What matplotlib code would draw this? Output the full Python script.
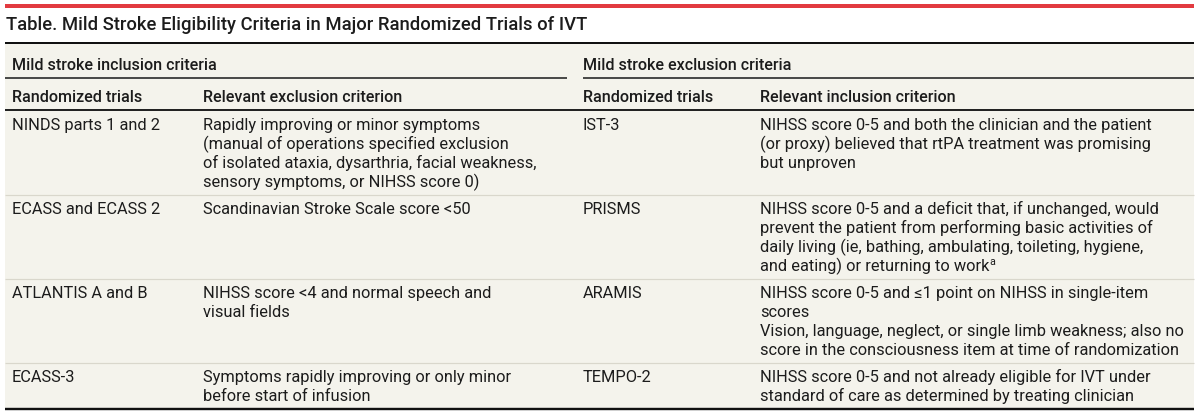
import matplotlib
matplotlib.use("Agg")
import matplotlib.pyplot as plt
from matplotlib.patches import Rectangle

plt.rcParams['font.family'] = ['Roboto', 'DejaVu Sans']

# ---------------- data ----------------
title = "Table. Mild Stroke Eligibility Criteria in Major Randomized Trials of IVT"
group_headers = ["Mild stroke inclusion criteria", "Mild stroke exclusion criteria"]
col_headers = ["Randomized trials", "Relevant exclusion criterion",
               "Randomized trials", "Relevant inclusion criterion"]

left_trials = ["NINDS parts 1 and 2", "ECASS and ECASS 2", "ATLANTIS A and B", "ECASS-3"]
left_criteria = [
    ["Rapidly improving or minor symptoms",
     "(manual of operations specified exclusion",
     "of isolated ataxia, dysarthria, facial weakness,",
     "sensory symptoms, or NIHSS score 0)"],
    ["Scandinavian Stroke Scale score <50"],
    ["NIHSS score <4 and normal speech and",
     "visual fields"],
    ["Symptoms rapidly improving or only minor",
     "before start of infusion"],
]
right_trials = ["IST-3", "PRISMS", "ARAMIS", "TEMPO-2"]
right_criteria = [
    ["NIHSS score 0-5 and both the clinician and the patient",
     "(or proxy) believed that rtPA treatment was promising",
     "but unproven"],
    ["NIHSS score 0-5 and a deficit that, if unchanged, would",
     "prevent the patient from performing basic activities of",
     "daily living (ie, bathing, ambulating, toileting, hygiene,",
     "and eating) or returning to work"],
    ["NIHSS score 0-5 and \u22641 point on NIHSS in single-item",
     "scores",
     "Vision, language, neglect, or single limb weakness; also no",
     "score in the consciousness item at time of randomization"],
    ["NIHSS score 0-5 and not already eligible for IVT under",
     "standard of care as determined by treating clinician"],
]
right_footnotes = ["", "a", "", ""]

# ---------------- style ----------------
W, H = 1199, 411
TXT = "#1c1c1c"
BG = "#f4f3ec"
RED = "#e23a40"
SEP = "#d9d7cc"
X0, X1 = 5, 1194
col_x = [12, 203, 583, 760]
line_h = 19

fig = plt.figure(figsize=(W / 100, H / 100), dpi=100)
fig.patch.set_facecolor("white")
ax = fig.add_axes([0, 0, 1, 1])
ax.set_xlim(0, W)
ax.set_ylim(H, 0)
ax.axis("off")
renderer = fig.canvas.get_renderer()


def fit_size(text, target_px, weight="normal"):
    t = ax.text(0, 0, text, fontsize=10, weight=weight)
    w = t.get_window_extent(renderer).width
    t.remove()
    return 10 * target_px / w


body_fs = fit_size(right_criteria[0][0], 390)
head_fs = fit_size(group_headers[0], 205, "medium")
title_fs = fit_size(title, 582, "medium")

# background + rules
ax.add_patch(Rectangle((X0, 44), X1 - X0, 365, facecolor=BG, edgecolor="none", zorder=0))
ax.plot([X0, X1], [6, 6], color=RED, lw=4 * 0.72, solid_capstyle="butt")
ax.plot([X0, X1], [43, 43], color="#111111", lw=2 * 0.72, solid_capstyle="butt")

ax.text(X0 + 1, 30.5, title, fontsize=title_fs, weight="medium", color=TXT, va="baseline")

# group headers
ax.text(col_x[0], 70.5, group_headers[0], fontsize=head_fs, weight="medium", color=TXT, va="baseline")
ax.text(col_x[2], 70.5, group_headers[1], fontsize=head_fs, weight="medium", color=TXT, va="baseline")
ax.plot([X0, 567], [78, 78], color="#222222", lw=1.6 * 0.72, solid_capstyle="butt")
ax.plot([583, X1], [78, 78], color="#222222", lw=1.6 * 0.72, solid_capstyle="butt")

for x, h in zip(col_x, col_headers):
    ax.text(x, 101.5, h, fontsize=head_fs, weight="medium", color=TXT, va="baseline")
ax.plot([X0, X1], [110.5, 110.5], color="#222222", lw=2 * 0.72, solid_capstyle="butt")

# body rows
top = 110.5
n_rows = len(left_trials)
inv = ax.transData.inverted()
for r in range(n_rows):
    cells = [[left_trials[r]], left_criteria[r], [right_trials[r]], right_criteria[r]]
    nmax = max(len(c) for c in cells)
    for x, lines in zip(col_x, cells):
        for i, ln in enumerate(lines):
            base = top + 13.5 + line_h * i + 6
            t = ax.text(x, base, ln, fontsize=body_fs, color=TXT, va="baseline")
            if x == col_x[3] and i == len(lines) - 1 and right_footnotes[r]:
                bb = t.get_window_extent(renderer)
                xr = inv.transform((bb.x1, 0))[0]
                ax.text(xr + 0.5, base - 6, right_footnotes[r], fontsize=body_fs * 0.65,
                        color=TXT, va="baseline")
    row_h = 8 + line_h * nmax
    top += row_h
    if r < n_rows - 1:
        ax.plot([X0, X1], [top, top], color=SEP, lw=1.2 * 0.72, solid_capstyle="butt")

ax.plot([X0, X1], [409, 409], color="#111111", lw=2.4 * 0.72, solid_capstyle="butt")

fig.savefig("out.png", dpi=100, facecolor="white")
